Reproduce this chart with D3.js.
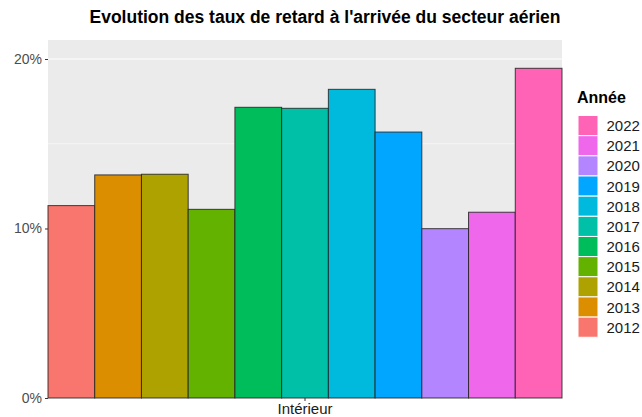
<!DOCTYPE html>
<html>
<head>
<meta charset="utf-8">
<script src="https://cdn.jsdelivr.net/npm/d3@7"></script>
<style>
  body { margin: 0; background: #fff; }
  svg text { font-family: "Liberation Sans", Arial, sans-serif; }
</style>
</head>
<body>
<div id="chart"></div>
<script>
// data
const categories = ["Intérieur"];
const years = ["2012","2013","2014","2015","2016","2017","2018","2019","2020","2021","2022"];
const rates = [0.1135, 0.1316, 0.1320, 0.1113, 0.1715, 0.1709, 0.1821, 0.1569, 0.0999, 0.1096, 0.1945];
const yTicks = [0, 0.1, 0.2];
const colors = ["#F8766D","#DB8E00","#AEA200","#64B200","#00BD5C","#00C1A7","#00BADE","#00A6FF","#B385FF","#EF67EB","#FF63B6"];

const W = 642, H = 417;
const margin = {top: 40, right: 80, bottom: 19, left: 48};
const width = W - margin.left - margin.right,
      height = H - margin.top - margin.bottom;

const svg = d3.select("#chart")
  .append("svg")
    .attr("width", W)
    .attr("height", H);

// title
svg.append("text")
  .attr("x", 325)
  .attr("y", 23)
  .attr("text-anchor", "middle")
  .style("font-size", "17.5px")
  .style("font-weight", "bold")
  .style("fill", "#000")
  .text("Evolution des taux de retard à l'arrivée du secteur aérien");

const g = svg.append("g")
  .attr("transform", `translate(${margin.left},${margin.top})`);

// panel background
g.append("rect")
  .attr("width", width)
  .attr("height", height)
  .attr("fill", "#EBEBEB");

const y = d3.scaleLinear()
  .domain([0, 0.2112])
  .range([height, 0]);

const x = d3.scaleBand()
  .domain(categories)
  .range([0, width])
  .padding(0);

const xSub = d3.scaleBand()
  .domain(years)
  .range([0, x.bandwidth()])
  .padding(0);

const color = d3.scaleOrdinal()
  .domain(years)
  .range(colors);

// grid lines
g.append("g")
  .selectAll("line.minor")
  .data([0.05, 0.15])
  .join("line")
    .attr("x1", 0).attr("x2", width)
    .attr("y1", d => y(d)).attr("y2", d => y(d))
    .attr("stroke", "#fff").attr("stroke-width", 0.55);
g.append("g")
  .selectAll("line.major")
  .data(yTicks)
  .join("line")
    .attr("x1", 0).attr("x2", width)
    .attr("y1", d => y(d)).attr("y2", d => y(d))
    .attr("stroke", "#fff").attr("stroke-width", 1.1);

// bars
g.append("g")
  .selectAll("g")
  .data(categories)
  .join("g")
    .attr("transform", d => `translate(${x(d)},0)`)
  .selectAll("rect")
  .data(() => years.map((yr, i) => ({key: yr, value: rates[i]})))
  .join("rect")
    .attr("x", d => xSub(d.key))
    .attr("y", d => y(d.value))
    .attr("width", xSub.bandwidth())
    .attr("height", d => height - y(d.value))
    .attr("fill", d => color(d.key))
    .attr("stroke", "#222")
    .attr("stroke-opacity", 0.85)
    .attr("stroke-width", 1);

// y axis
const yAxis = g.append("g")
  .call(d3.axisLeft(y).tickValues(yTicks).tickFormat(d3.format(".0%")).tickSize(3).tickPadding(3));
yAxis.select(".domain").remove();
yAxis.selectAll("line").attr("stroke", "#333");
yAxis.selectAll("text").style("font-size", "14px").style("fill", "#4D4D4D");

// x axis
const xAxis = g.append("g")
  .attr("transform", `translate(0,${height})`)
  .call(d3.axisBottom(x).tickSize(3).tickPadding(2));
xAxis.select(".domain").remove();
xAxis.selectAll("line").attr("stroke", "#333");
xAxis.selectAll("text").style("font-size", "15px").style("fill", "#1A1A1A");

// legend
const legend = svg.append("g")
  .attr("transform", "translate(578,0)");
legend.append("text")
  .attr("x", -1)
  .attr("y", 103)
  .style("font-size", "16px")
  .style("font-weight", "bold")
  .text("Année");

const rev = years.slice().reverse();
const keyH = 20.16;
legend.selectAll("rect")
  .data(rev)
  .join("rect")
    .attr("x", 0)
    .attr("y", (d, i) => 115.5 + i * keyH)
    .attr("width", 20)
    .attr("height", keyH)
    .attr("fill", d => color(d))
    .attr("stroke", "#fff")
    .attr("stroke-width", 1);
legend.selectAll("text.lab")
  .data(rev)
  .join("text")
    .attr("class", "lab")
    .attr("x", 28.5)
    .attr("y", (d, i) => 115.5 + i * keyH + keyH / 2 + 5.5)
    .style("font-size", "15px")
    .style("fill", "#1A1A1A")
    .text(d => d);
</script>
</body>
</html>
